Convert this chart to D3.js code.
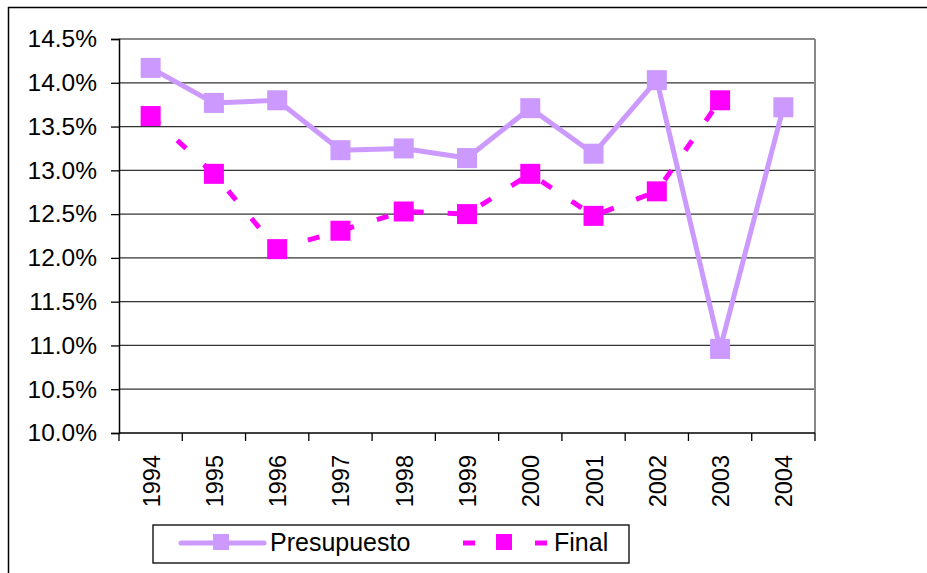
<html>
<head>
    <style>
        body { margin: 0; background: #fff; }
        text { font-family: "Liberation Sans", Arial, sans-serif; }
    </style>
    <script src="https://cdn.jsdelivr.net/npm/d3@7"></script>
</head>
<body>
    <svg id="container" width="927" height="573"></svg>
</body>
<script>
    // data
    let years = ["1994","1995","1996","1997","1998","1999","2000","2001","2002","2003","2004"]
    let presupuesto = [14.17, 13.77, 13.80, 13.23, 13.25, 13.14, 13.71, 13.19, 14.03, 10.96, 13.72]
    let final = [13.62, 12.96, 12.10, 12.31, 12.53, 12.50, 12.96, 12.48, 12.76, 13.80, null]
    let yTicks = [10.0, 10.5, 11.0, 11.5, 12.0, 12.5, 13.0, 13.5, 14.0, 14.5]

    let svg = d3.select("#container")

    // outer chart border (runs off right and bottom)
    svg.append("rect")
        .attr("x", 8.5).attr("y", 7.5)
        .attr("width", 940).attr("height", 600)
        .attr("fill", "none").attr("stroke", "#000").attr("stroke-width", 1.5)

    let pLeft = 119, pTop = 39, pRight = 815, pBottom = 433

    let x = d3.scaleBand().domain(years).range([pLeft, pRight])
    let y = d3.scaleLinear().domain([10, 14.5]).range([pBottom, pTop])

    // gridlines
    svg.append("g").selectAll("line")
        .data(yTicks.slice(1))
        .enter().append("line")
        .attr("x1", pLeft).attr("x2", pRight)
        .attr("y1", d => y(d)).attr("y2", d => y(d))
        .attr("stroke", d => d == 14.5 ? "#888" : "#333").attr("stroke-width", d => d == 14.5 ? 2 : 1.3)

    // right border of plot area
    svg.append("line")
        .attr("x1", pRight).attr("x2", pRight).attr("y1", pTop).attr("y2", pBottom)
        .attr("stroke", "#888").attr("stroke-width", 2)

    // y axis
    let yAxis = d3.axisLeft(y).tickValues(yTicks).tickSize(8).tickPadding(14)
        .tickFormat(d => d.toFixed(1) + "%")
    let gy = svg.append("g").attr("transform", "translate(" + pLeft + ",0)").call(yAxis)
    gy.select(".domain").attr("stroke", "#000").attr("stroke-width", 1.5)
    gy.selectAll(".tick line").attr("stroke", "#000").attr("stroke-width", 1.3)
    gy.selectAll("text").attr("font-size", 24.5).attr("fill", "#000")
        .attr("font-family", "Liberation Sans, Arial, sans-serif")

    // x axis: ticks at category boundaries
    let gx = svg.append("g").attr("transform", "translate(0," + pBottom + ")")
    gx.append("line").attr("x1", pLeft).attr("x2", pRight)
        .attr("stroke", "#000").attr("stroke-width", 1.5)
    let bounds = years.map(d => x(d)).concat([pRight])
    gx.selectAll(".tk").data(bounds).enter().append("line")
        .attr("x1", d => d).attr("x2", d => d).attr("y1", 0).attr("y2", 8)
        .attr("stroke", "#000").attr("stroke-width", 1.3)
    gx.selectAll(".lab").data(years).enter().append("text")
        .attr("transform", d => "translate(" + (x(d) + x.bandwidth() / 2 + 9) + ",22) rotate(-90)")
        .attr("text-anchor", "end")
        .attr("font-size", 23.5)
        .text(d => d)

    let cx = d => x(d) + x.bandwidth() / 2
    let line = d3.line()
        .defined(d => d[1] != null)
        .x(d => cx(d[0]))
        .y(d => y(d[1]))

    // Final (dashed magenta)
    let fData = years.map((d, i) => [d, final[i]])
    svg.append("path")
        .attr("d", line(fData))
        .attr("fill", "none").attr("stroke", "#FF00FF").attr("stroke-width", 5)
        .attr("stroke-dasharray", "12,24")
    svg.append("g").selectAll("rect")
        .data(fData.filter(d => d[1] != null))
        .enter().append("rect")
        .attr("x", d => cx(d[0]) - 10).attr("y", d => y(d[1]) - 10)
        .attr("width", 20).attr("height", 20)
        .attr("fill", "#FF00FF")

    // Presupuesto (solid lavender)
    let pData = years.map((d, i) => [d, presupuesto[i]])
    svg.append("path")
        .attr("d", line(pData))
        .attr("fill", "none").attr("stroke", "#CC99FF").attr("stroke-width", 5)
    svg.append("g").selectAll("rect")
        .data(pData)
        .enter().append("rect")
        .attr("x", d => cx(d[0]) - 10).attr("y", d => y(d[1]) - 10)
        .attr("width", 20).attr("height", 20)
        .attr("fill", "#CC99FF")

    // legend
    let lg = svg.append("g")
    lg.append("rect").attr("x", 153).attr("y", 525).attr("width", 476).attr("height", 38)
        .attr("fill", "#fff").attr("stroke", "#000").attr("stroke-width", 1.3)
    lg.append("line").attr("x1", 181).attr("x2", 264).attr("y1", 543).attr("y2", 543)
        .attr("stroke", "#CC99FF").attr("stroke-width", 5).attr("stroke-linecap", "round")
    lg.append("rect").attr("x", 213).attr("y", 534).attr("width", 16).attr("height", 16).attr("fill", "#CC99FF")
    lg.append("text").attr("x", 270).attr("y", 551).attr("font-size", 25).text("Presupuesto")
    lg.append("line").attr("x1", 463).attr("x2", 547).attr("y1", 543).attr("y2", 543)
        .attr("stroke", "#FF00FF").attr("stroke-width", 5).attr("stroke-dasharray", "12,24")
    lg.append("rect").attr("x", 496).attr("y", 534).attr("width", 16).attr("height", 16).attr("fill", "#FF00FF")
    lg.append("text").attr("x", 554).attr("y", 551).attr("font-size", 25).text("Final")
</script>
</html>
